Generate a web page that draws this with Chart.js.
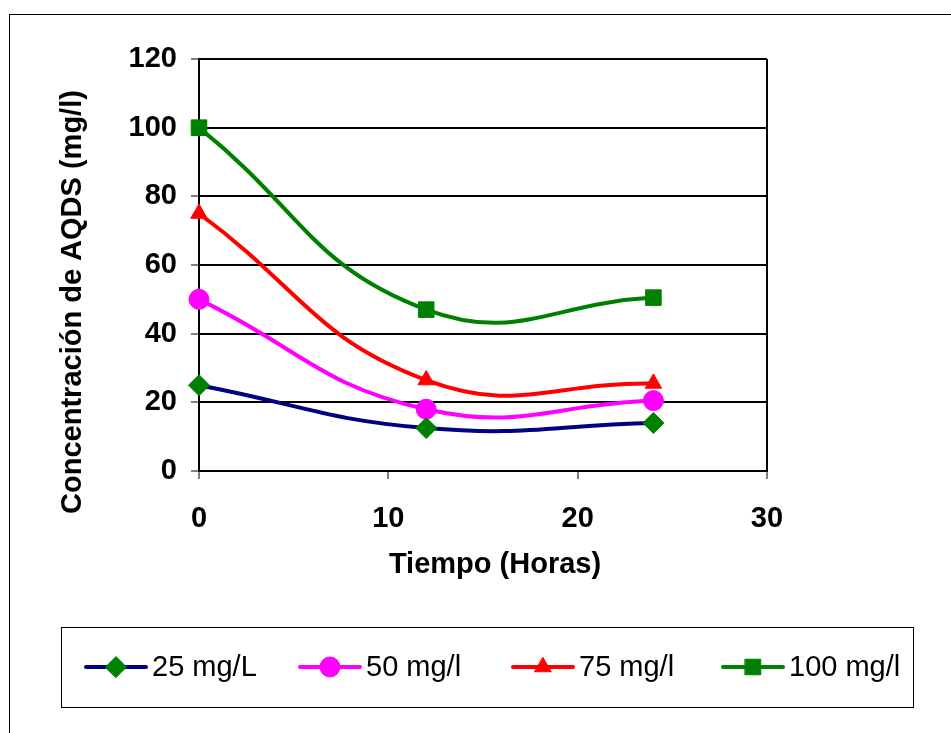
<!DOCTYPE html>
<html>
<head>
<meta charset="utf-8">
<script src="https://cdn.jsdelivr.net/npm/chart.js@4.4.0/dist/chart.umd.min.js"></script>
<style>
  html, body { margin: 0; padding: 0; background: #fff; }
  #wrap { width: 951px; height: 733px; }
</style>
</head>
<body>
<div id="wrap"><canvas id="chart" width="951" height="733"></canvas></div>
<script>
// data
const hours = [0, 12, 24];
const conc25 = [25, 12.5, 14];
const conc50 = [50, 18, 20.5];
const conc75 = [75, 26.5, 25.5];
const conc100 = [100, 47, 50.5];
const seriesLabels = ['25 mg/L', '50 mg/l', '75 mg/l', '100 mg/l'];
const yTicks = [0, 20, 40, 60, 80, 100, 120];
const xTicks = [0, 10, 20, 30];
const xTitle = 'Tiempo (Horas)';
const yTitle = 'Concentración de AQDS (mg/l)';

const FONT = '"Liberation Sans", Arial, sans-serif';
Chart.defaults.font.family = FONT;
Chart.defaults.color = '#000';

const toPoints = (vals) => hours.map((h, i) => ({ x: h, y: vals[i] }));

const makeSet = (label, vals, line, marker, style, radius) => ({
  label: label,
  data: toPoints(vals),
  borderColor: line,
  backgroundColor: marker,
  pointBackgroundColor: marker,
  pointBorderColor: marker,
  pointBorderWidth: 1,
  pointStyle: style,
  pointRadius: radius,
  pointHoverRadius: radius,
  borderWidth: 4,
  tension: 0.45,
  fill: false,
  clip: false
});

const datasets = [
  makeSet(seriesLabels[0], conc25, '#000080', '#008000', 'rectRot', 10.5),
  makeSet(seriesLabels[1], conc50, '#ff00ff', '#ff00ff', 'circle', 10),
  makeSet(seriesLabels[2], conc75, '#ff0000', '#ff0000', 'triangle', 9.5),
  makeSet(seriesLabels[3], conc100, '#008000', '#008000', 'rect', 11)
];

// white page + outer frame (cut off at right and bottom)
const backdrop = {
  id: 'backdrop',
  beforeDraw(chart) {
    const ctx = chart.ctx;
    ctx.save();
    ctx.fillStyle = '#fff';
    ctx.fillRect(0, 0, chart.width, chart.height);
    ctx.strokeStyle = '#000';
    ctx.lineWidth = 1;
    ctx.strokeRect(9.5, 14.5, 1000, 1000);
    ctx.restore();
  }
};

// axis titles
const titles = {
  id: 'titles',
  afterDraw(chart) {
    const ctx = chart.ctx;
    ctx.save();
    ctx.fillStyle = '#000';
    ctx.font = 'bold 29px ' + FONT;
    ctx.textAlign = 'center';
    ctx.textBaseline = 'middle';
    ctx.fillText(xTitle, 495, 565);
    ctx.translate(73, 302);
    ctx.rotate(-Math.PI / 2);
    ctx.fillText(yTitle, 0, 0);
    ctx.restore();
  }
};

// boxed legend, line with marker in the middle
const boxLegend = {
  id: 'boxLegend',
  afterDraw(chart) {
    const ctx = chart.ctx;
    const centers = [116, 330, 543, 753];
    const cy = 667;
    ctx.save();
    ctx.strokeStyle = '#000';
    ctx.lineWidth = 1;
    ctx.strokeRect(61.5, 627.5, 852, 80);
    chart.data.datasets.forEach((ds, i) => {
      const cx = centers[i];
      ctx.strokeStyle = ds.borderColor;
      ctx.lineWidth = 4;
      ctx.lineCap = 'round';
      ctx.beginPath();
      ctx.moveTo(cx - 30, cy);
      ctx.lineTo(cx + 30, cy);
      ctx.stroke();
      ctx.fillStyle = ds.pointBackgroundColor;
      ctx.strokeStyle = ds.pointBorderColor;
      ctx.lineWidth = 1;
      Chart.helpers.drawPoint(ctx, { pointStyle: ds.pointStyle, radius: ds.pointRadius, rotation: 0, borderWidth: 1 }, cx, cy);
      ctx.fillStyle = '#000';
      ctx.font = '29px ' + FONT;
      ctx.textAlign = 'left';
      ctx.textBaseline = 'middle';
      ctx.fillText(ds.label, cx + 36, cy + 1);
    });
    ctx.restore();
  }
};

new Chart(document.getElementById('chart'), {
  type: 'line',
  data: { datasets: datasets },
  options: {
    responsive: false,
    animation: false,
    layout: { padding: { left: 0, top: 59, right: 184, bottom: 0 } },
    plugins: {
      legend: { display: false },
      tooltip: { enabled: false }
    },
    scales: {
      x: {
        type: 'linear',
        min: xTicks[0],
        max: xTicks[xTicks.length - 1],
        afterBuildTicks: (scale) => { scale.ticks = xTicks.map(v => ({ value: v })); },
        afterFit: (scale) => { scale.height = 262; },
        border: { display: true, color: '#000', width: 2 },
        grid: {
          drawOnChartArea: true,
          color: (c) => (c.tick && c.tick.value === 30 ? '#000' : 'rgba(0,0,0,0)'),
          lineWidth: 2,
          tickColor: '#000',
          tickWidth: 1,
          tickLength: 8
        },
        ticks: {
          font: { size: 29, weight: 'bold' },
          padding: 23,
          maxRotation: 0
        }
      },
      y: {
        min: yTicks[0],
        max: yTicks[yTicks.length - 1],
        afterBuildTicks: (scale) => { scale.ticks = yTicks.map(v => ({ value: v })); },
        afterFit: (scale) => { scale.width = 199; },
        border: { display: true, color: '#000', width: 2 },
        grid: {
          color: '#000',
          lineWidth: 2,
          tickColor: '#000',
          tickWidth: 1,
          tickLength: 8
        },
        ticks: {
          font: { size: 29, weight: 'bold' },
          padding: 14
        }
      }
    }
  },
  plugins: [backdrop, titles, boxLegend]
});
</script>
</body>
</html>
